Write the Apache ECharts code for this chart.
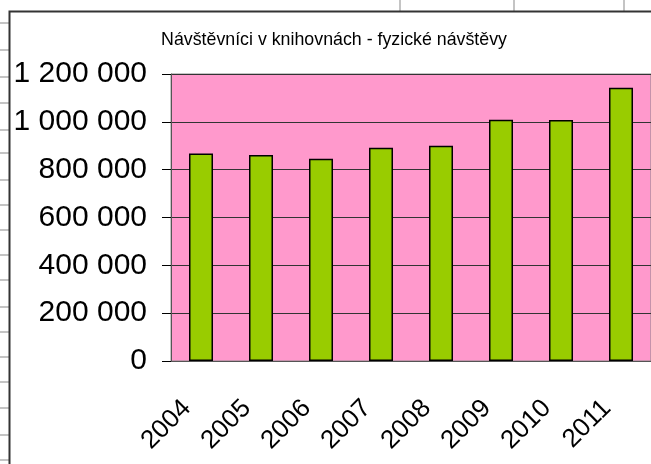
<!DOCTYPE html>
<html>
<head>
    <meta charset="UTF-8">
    <title>Návštěvníci v knihovnách</title>
    <script src="https://cdn.jsdelivr.net/npm/echarts@6/dist/echarts.min.js"></script>
    <style>
        html, body { margin: 0; padding: 0; background: #fff; }
        #chart { width: 651px; height: 464px; }
    </style>
</head>
<body>
    <div id="chart"></div>
    <script>
        // data
        const years = ['2004', '2005', '2006', '2007', '2008', '2009', '2010', '2011'];
        const visitors = [868000, 861000, 846000, 892000, 900000, 1009000, 1008000, 1143000];
        const yTicks = [0, 200000, 400000, 600000, 800000, 1000000, 1200000];

        // spreadsheet grid behind the chart object (decoration only)
        const sheetRowsY = [23, 50, 77, 103, 130, 153, 180, 205, 230, 255, 280, 307, 332, 357, 382, 408, 435, 460];
        const sheetColsX = [400, 514, 624];

        const fmt = v => String(v).replace(/\B(?=(\d{3})+(?!\d))/g, ' ');

        const chart = echarts.init(document.getElementById('chart'));

        const graphics = [];
        sheetRowsY.forEach(y => graphics.push({
            type: 'line', z: -10, silent: true,
            shape: { x1: 0, y1: y, x2: 9, y2: y },
            style: { stroke: '#c4c4c4', lineWidth: 2 }
        }));
        sheetColsX.forEach(x => graphics.push({
            type: 'line', z: -10, silent: true,
            shape: { x1: x, y1: 0, x2: x, y2: 11 },
            style: { stroke: '#c4c4c4', lineWidth: 2 }
        }));
        // chart object frame
        graphics.push({
            type: 'rect', z: -5, silent: true,
            shape: { x: 9.5, y: 11.5, width: 700, height: 500 },
            style: { fill: '#fff', stroke: '#333', lineWidth: 2 }
        });
        // title
        graphics.push({
            type: 'text', silent: true,
            x: 334, y: 40,
            style: {
                text: 'Návštěvníci v knihovnách - fyzické návštěvy',
                align: 'center',
                verticalAlign: 'middle',
                font: '17.8px "Liberation Sans"',
                fill: '#000'
            }
        });

        const option = {
            animation: false,
            backgroundColor: '#fff',
            graphic: graphics,
            grid: {
                left: 171,
                top: 74,
                width: 486,
                height: 287,
                show: true,
                backgroundColor: '#ff99cc',
                borderColor: '#8a8a8a',
                borderWidth: 1
            },
            xAxis: {
                type: 'category',
                data: years,
                axisLine: { lineStyle: { color: '#555', width: 1 } },
                axisTick: { length: 9, lineStyle: { color: '#777' } },
                axisLabel: {
                    rotate: 45,
                    margin: 29,
                    padding: [0, 20, 0, 0],
                    fontFamily: 'Liberation Sans',
                    fontSize: 26,
                    color: '#000'
                }
            },
            yAxis: {
                type: 'value',
                min: 0,
                max: 1200000,
                interval: 200000,
                axisLine: { show: true, lineStyle: { color: '#555', width: 1 } },
                axisTick: { show: true, length: 9, lineStyle: { color: '#000' } },
                splitLine: { lineStyle: { color: '#333', width: 1 } },
                axisLabel: {
                    margin: 24,
                    fontFamily: 'Liberation Sans',
                    fontSize: 30,
                    color: '#000',
                    formatter: v => yTicks.includes(v) ? fmt(v) : ''
                }
            },
            series: [{
                type: 'bar',
                data: visitors,
                barWidth: '40%',
                itemStyle: {
                    color: '#99cc00',
                    borderColor: '#000',
                    borderWidth: 1.5
                }
            }]
        };

        chart.setOption(option);
    </script>
</body>
</html>
